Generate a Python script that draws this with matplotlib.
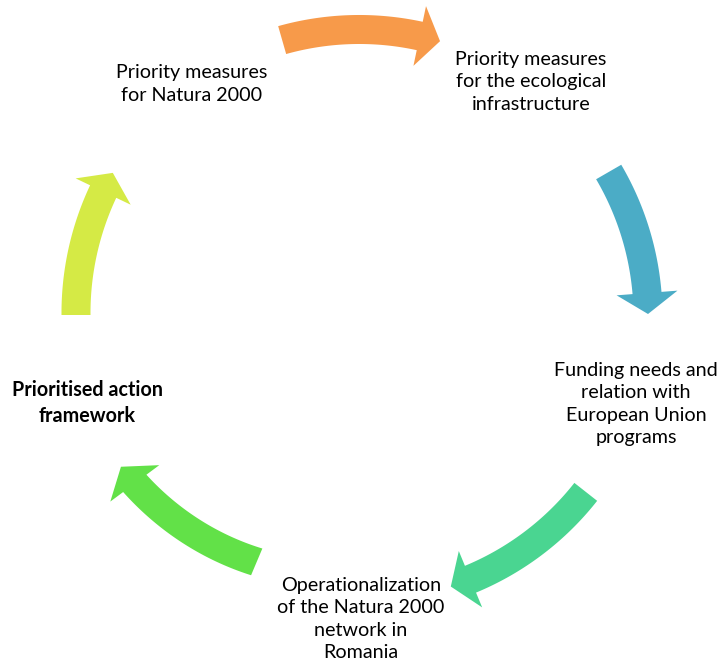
import numpy as np
import matplotlib
matplotlib.use("Agg")
import matplotlib.pyplot as plt
from matplotlib.patches import Polygon

# ---- data ----
labels = [
    "Priority measures\nfor Natura 2000",
    "Priority measures\nfor the ecological\ninfrastructure",
    "Funding needs and\nrelation with\nEuropean Union\nprograms",
    "Operationalization\nof the Natura 2000\nnetwork in\nRomania",
    "Prioritised action\nframework",
]
label_bold = [False, False, False, False, True]
label_x = [192, 531, 636, 361, 87]
label_y = [84, 82, 404, 619, 403]

arrow_colors = ["#F79A4A", "#4BACC6", "#4AD591", "#62E148", "#D5EA45"]
arrow_start_deg = [106.0, 30.0, -38.2, -112.9, 180.0]
arrow_end_deg = [73.9, 0.2, -71.7, -147.7, 150.2]
arrow_start_r = [286, 286, 286, 268, 285]
arrow_end_r = [285, 287, 286, 284, 286]

# ---- layout ----
W, H = 721, 663
CX, CY = 361, 315
BODY_HALF = 14.5
HEAD_HALF = 30.5
HEAD_LEN = 21.0

fig = plt.figure(figsize=(W / 100, H / 100), dpi=100)
ax = fig.add_axes([0, 0, 1, 1])
ax.set_xlim(0, W)
ax.set_ylim(H, 0)
ax.axis("off")


def pt(theta_deg, r):
    t = np.deg2rad(theta_deg)
    return CX + r * np.cos(t), CY - r * np.sin(t)


for c, a0, a1, r0, r1 in zip(arrow_colors, arrow_start_deg, arrow_end_deg,
                             arrow_start_r, arrow_end_r):
    rmean = 0.5 * (r0 + r1)
    head_deg = np.rad2deg(HEAD_LEN / rmean)
    sgn = 1 if a1 > a0 else -1
    ab = a1 - sgn * head_deg
    ts = np.linspace(a0, ab, 60)
    rs = r0 + (r1 - r0) * (ts - a0) / (a1 - a0)
    outer = [pt(t, r + BODY_HALF) for t, r in zip(ts, rs)]
    inner = [pt(t, r - BODY_HALF) for t, r in zip(ts, rs)]
    rb = rs[-1]
    head = [pt(ab, rb + HEAD_HALF), pt(a1, r1), pt(ab, rb - HEAD_HALF)]
    poly = outer + head + inner[::-1]
    ax.add_patch(Polygon(poly, closed=True, facecolor=c, edgecolor="none"))

for txt, x, y, b in zip(labels, label_x, label_y, label_bold):
    ax.text(x, y, txt, ha="center", va="center", multialignment="center",
            fontsize=14.2, family=["Lato", "DejaVu Sans"],
            fontweight="bold" if b else "normal", color="#000000",
            linespacing=1.36)

fig.savefig("out.png", dpi=100)
